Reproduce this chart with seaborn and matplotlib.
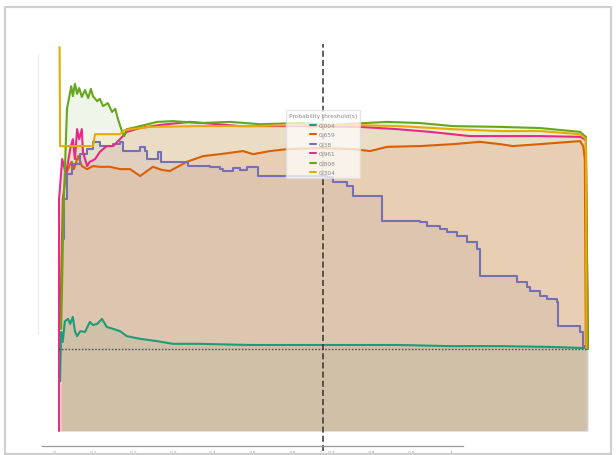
import numpy as np
import pandas as pd
import matplotlib
matplotlib.use("Agg")
import matplotlib.pyplot as plt
from matplotlib.patches import Rectangle
from matplotlib.lines import Line2D
import seaborn as sns

sns.set_theme(style="white")
plt.rcParams["font.family"] = ["DejaVu Sans"]

# ---- series data (threshold on x, score on y) ----
labels = ["0.004", "0.659", "0.38", "0.961", "0.808", "0.304"]
colors = sns.color_palette("Dark2", 6)

teal_x = [0.004, 0.006, 0.009, 0.013, 0.019, 0.023, 0.028, 0.032, 0.036, 0.042, 0.051,
          0.060, 0.066, 0.074, 0.083, 0.092, 0.104, 0.117, 0.130, 0.155, 0.187, 0.217,
          0.268, 0.362, 0.457, 0.551, 0.645, 0.740, 0.834, 0.928, 0.996, 1.0]
teal_y = [0.130, 0.258, 0.232, 0.286, 0.292, 0.279, 0.297, 0.260, 0.247, 0.260, 0.258,
          0.284, 0.276, 0.279, 0.292, 0.271, 0.266, 0.260, 0.247, 0.240, 0.234, 0.227,
          0.227, 0.224, 0.224, 0.224, 0.224, 0.221, 0.221, 0.219, 0.216, 0.214]

orange_x = [0.004, 0.009, 0.015, 0.023, 0.026, 0.030, 0.038, 0.045, 0.055, 0.066, 0.079,
            0.098, 0.117, 0.136, 0.155, 0.179, 0.196, 0.211, 0.243, 0.274, 0.306, 0.349,
            0.368, 0.400, 0.432, 0.494, 0.557, 0.589, 0.621, 0.683, 0.745, 0.796, 0.834,
            0.858, 0.909, 0.985, 0.991, 0.994, 0.996]
orange_y = [0.266, 0.604, 0.669, 0.695, 0.701, 0.682, 0.716, 0.690, 0.682, 0.690, 0.688,
            0.688, 0.682, 0.682, 0.664, 0.688, 0.680, 0.677, 0.701, 0.716, 0.721, 0.729,
            0.721, 0.729, 0.734, 0.737, 0.734, 0.729, 0.740, 0.742, 0.747, 0.753, 0.747,
            0.742, 0.747, 0.755, 0.742, 0.708, 0.214]

# purple is a step curve: level starting at each x
purple_x = [0.008, 0.011, 0.017, 0.026, 0.042, 0.055, 0.066, 0.079, 0.104, 0.117, 0.123,
            0.155, 0.164, 0.168, 0.189, 0.194, 0.245, 0.287, 0.306, 0.311, 0.330, 0.343,
            0.357, 0.377, 0.508, 0.519, 0.545, 0.557, 0.611, 0.683, 0.696, 0.721, 0.734,
            0.753, 0.772, 0.791, 0.796, 0.866, 0.885, 0.891, 0.909, 0.923, 0.942, 0.943,
            0.985, 0.991, 0.996, 1.0]
purple_y = [0.500, 0.604, 0.669, 0.695, 0.721, 0.734, 0.753, 0.742, 0.747, 0.753, 0.729,
            0.740, 0.729, 0.708, 0.727, 0.701, 0.690, 0.688, 0.682, 0.677, 0.685, 0.680,
            0.688, 0.664, 0.661, 0.648, 0.638, 0.612, 0.547, 0.544, 0.534, 0.526, 0.518,
            0.508, 0.492, 0.474, 0.404, 0.388, 0.375, 0.365, 0.352, 0.344, 0.336, 0.273,
            0.258, 0.221, 0.214, 0.214]

pink_x = [0.002, 0.002, 0.008, 0.015, 0.023, 0.028, 0.032, 0.036, 0.040, 0.045, 0.047,
          0.055, 0.060, 0.070, 0.079, 0.092, 0.104, 0.117, 0.130, 0.155, 0.192, 0.249,
          0.343, 0.457, 0.570, 0.640, 0.702, 0.777, 0.834, 0.909, 0.985, 0.996, 1.0]
pink_y = [0.000, 0.604, 0.708, 0.669, 0.734, 0.760, 0.708, 0.786, 0.760, 0.786, 0.727,
          0.690, 0.701, 0.708, 0.727, 0.742, 0.742, 0.760, 0.779, 0.789, 0.797, 0.805,
          0.794, 0.794, 0.792, 0.786, 0.779, 0.768, 0.768, 0.768, 0.766, 0.758, 0.214]

green_x = [0.006, 0.011, 0.017, 0.025, 0.028, 0.032, 0.036, 0.040, 0.045, 0.051, 0.057,
           0.062, 0.066, 0.074, 0.079, 0.085, 0.094, 0.102, 0.108, 0.113, 0.121, 0.125,
           0.130, 0.155, 0.187, 0.217, 0.268, 0.325, 0.381, 0.457, 0.513, 0.621, 0.683,
           0.745, 0.834, 0.909, 0.985, 0.996, 0.998, 1.0]
green_y = [0.266, 0.604, 0.839, 0.898, 0.872, 0.904, 0.878, 0.893, 0.870, 0.888, 0.867,
           0.891, 0.872, 0.859, 0.865, 0.846, 0.854, 0.831, 0.839, 0.813, 0.779, 0.768,
           0.786, 0.794, 0.805, 0.807, 0.802, 0.805, 0.799, 0.802, 0.797, 0.805, 0.802,
           0.794, 0.792, 0.789, 0.779, 0.766, 0.448, 0.214]

yellow_x = [0.003, 0.004, 0.066, 0.070, 0.117, 0.126, 0.174, 0.268, 0.362, 0.457, 0.551,
            0.645, 0.745, 0.834, 0.909, 0.985, 0.996, 0.997]
yellow_y = [1.000, 0.742, 0.742, 0.773, 0.773, 0.784, 0.792, 0.794, 0.794, 0.797, 0.797,
            0.794, 0.786, 0.781, 0.781, 0.773, 0.760, 0.214]

series = [
    (teal_x, teal_y, None),
    (orange_x, orange_y, None),
    (purple_x, purple_y, "steps-post"),
    (pink_x, pink_y, None),
    (green_x, green_y, None),
    (yellow_x, yellow_y, None),
]

baseline = 0.214
threshold = 0.5
tick_values = [0, 0.1, 0.2, 0.3, 0.4, 0.5, 0.6, 0.7, 0.8, 0.9, 1]
tick_labels = ["0", "0.1", "0.2", "0.3", "0.4", "0.5", "0.6", "0.7", "0.8", "0.9", "1"]

W, H = 616, 456
fig = plt.figure(figsize=(W / 100, H / 100), dpi=100)
fig.patch.set_facecolor("white")

# outer panel frame
fig.add_artist(Rectangle((5 / W, 1 - 455 / H), 606 / W, 447 / H, transform=fig.transFigure,
                         fill=False, edgecolor="#cfcfcf", lw=1.6))
# faint left guide
fig.add_artist(Line2D([38 / W, 38 / W], [1 - 335 / H, 1 - 55 / H], transform=fig.transFigure,
                      color="#eeeeee", lw=1))

ax = fig.add_axes([58 / W, 1 - 432 / H, 530 / W, 384 / H])
ax.set_xlim(0, 1)
ax.set_ylim(0, 1)
ax.axis("off")

for i, (xs, ys, ds) in enumerate(series):
    df = pd.DataFrame({"x": xs, "y": ys})
    step = "post" if ds else None
    ax.fill_between(df["x"], df["y"], 0, step=step, color=colors[i], alpha=0.1, lw=0)
    kw = {"drawstyle": ds} if ds else {}
    sns.lineplot(data=df, x="x", y="y", ax=ax, color=colors[i], lw=1.5, sort=False,
                 estimator=None, label=labels[i], clip_on=False, **kw)

ax.axhline(baseline, color="#555555", ls=(0, (1.2, 1.2)), lw=1.0)
ax.axvline(threshold, ymin=-0.052, ymax=1.008, color="#333333", ls=(0, (4, 2)),
           lw=1.1, clip_on=False)

leg = ax.legend(title="Probability threshold(s)", loc="upper left",
                bbox_to_anchor=(0.430, 0.835), fontsize=4.2, title_fontsize=4.2,
                frameon=True, framealpha=0.75, edgecolor="#dddddd", fancybox=False,
                handlelength=1.0, handletextpad=0.4, labelspacing=0.75, borderpad=0.5,
                borderaxespad=0)
for t in leg.get_texts():
    t.set_color("#888888")
leg.get_title().set_color("#888888")
ax.set_xlabel("")
ax.set_ylabel("")

# detached tick axis along the bottom
tax = fig.add_axes([42 / W, 1 - 447 / H, 421 / W, 0.001])
tax.set_xlim(-0.030, 1.030)
for s in ["top", "left", "right"]:
    tax.spines[s].set_visible(False)
tax.spines["bottom"].set_color("#999999")
tax.spines["bottom"].set_linewidth(0.9)
tax.set_yticks([])
tax.set_xticks(tick_values)
tax.set_xticklabels(tick_labels, fontsize=3.5, color="#aaaaaa")
tax.tick_params(axis="x", length=1.5, width=0.5, color="#bbbbbb", pad=1.5)
tax.patch.set_alpha(0)

fig.savefig("out.png", dpi=100)
